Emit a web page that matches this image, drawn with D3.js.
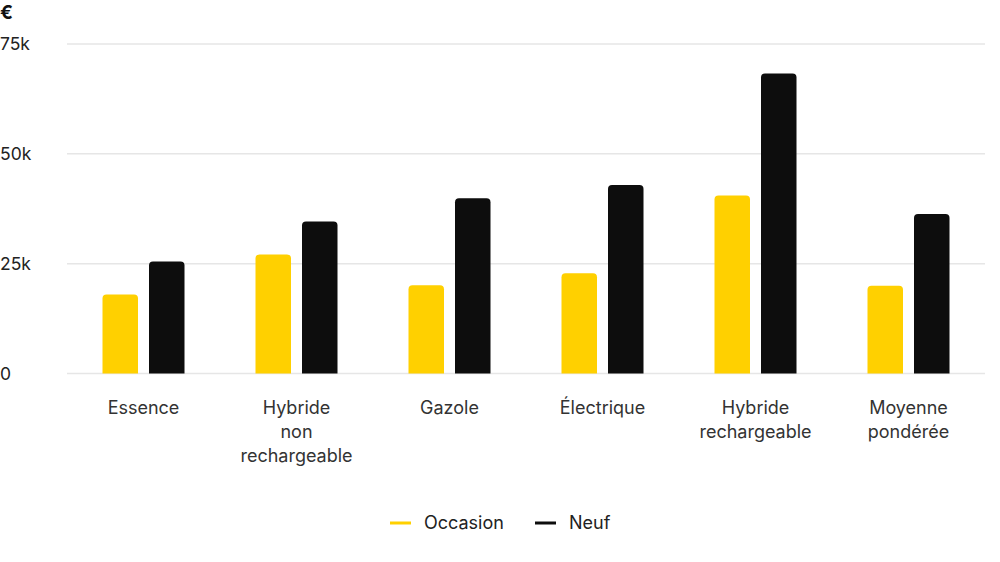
<!DOCTYPE html>
<html><head><meta charset="utf-8">
<script src="https://cdn.jsdelivr.net/npm/d3@7"></script>
<style>body{margin:0;background:#fff}svg{display:block;font-family:Inter,"Noto Sans",sans-serif}</style>
</head><body><svg id="c" width="1000" height="562"></svg>
<script>
const categories = [["Essence"],["Hybride","non","rechargeable"],["Gazole"],["Électrique"],["Hybride","rechargeable"],["Moyenne","pondérée"]];
const occasion = [18.0, 27.1, 20.1, 22.8, 40.5, 20.0];
const neuf = [25.5, 34.6, 39.9, 42.9, 68.3, 36.3];
const yTicks = [0, 25, 50, 75];
const seriesNames = ["Occasion","Neuf"];
const colors = ["#FFD000","#0D0D0D"];

(function(){
const svg = d3.select("#c");
const mLeft = 67, mRight = 985, mTop = 44, mBottom = 373.5;
const x = d3.scaleBand().domain(d3.range(categories.length)).range([mLeft,mRight]).padding(0);
const y = d3.scaleLinear().domain([0,75]).range([mBottom,mTop]);
const barW = 35.5, gap = 11;

svg.append("g").selectAll("line").data(yTicks).join("line")
  .attr("x1",mLeft).attr("x2",mRight).attr("y1",d=>y(d)).attr("y2",d=>y(d))
  .attr("stroke","#e6e6e6").attr("stroke-width",1.5);
svg.append("g").selectAll("text").data(yTicks).join("text")
  .attr("x",0).attr("y",d=>y(d)).attr("dy","0.35em")
  .attr("font-size",17.5).attr("fill","#222").text(d=>d===0?"0":d+"k");
svg.append("text").attr("x",0).attr("y",12).attr("dy","0.35em").attr("font-size",19).attr("font-weight",700).attr("fill","#111").text("€");

function roundTop(x0,y0,w,h,r){
  r=Math.min(r,h);
  return `M${x0},${y0+h}V${y0+r}Q${x0},${y0} ${x0+r},${y0}H${x0+w-r}Q${x0+w},${y0} ${x0+w},${y0+r}V${y0+h}Z`;
}
const series=[occasion,neuf];
series.forEach((vals,si)=>{
  svg.append("g").selectAll("path").data(vals).join("path")
    .attr("fill",colors[si])
    .attr("d",(d,i)=>{
      const c = x(i)+x.bandwidth()/2;
      const x0 = si===0 ? c-gap/2-barW : c+gap/2;
      return roundTop(x0,y(d),barW,mBottom-y(d),4);
    });
});

const xl = svg.append("g").selectAll("text").data(categories).join("text")
  .attr("text-anchor","middle").attr("font-size",18).attr("fill","#333");
xl.each(function(d,i){
  const t=d3.select(this);
  d.forEach((s,j)=>t.append("tspan").attr("x",x(i)+x.bandwidth()/2).attr("y",408+j*24).attr("dy","0.35em").text(s));
});

const legX=[390,535], legT=[424,569];
seriesNames.forEach((n,i)=>{
  svg.append("line").attr("x1",legX[i]).attr("x2",legX[i]+21).attr("y1",523).attr("y2",523).attr("stroke",colors[i]).attr("stroke-width",3);
  svg.append("text").attr("x",legT[i]).attr("y",523).attr("dy","0.35em").attr("font-size",18).attr("fill","#222").text(n);
});
})();
</script></body></html>
